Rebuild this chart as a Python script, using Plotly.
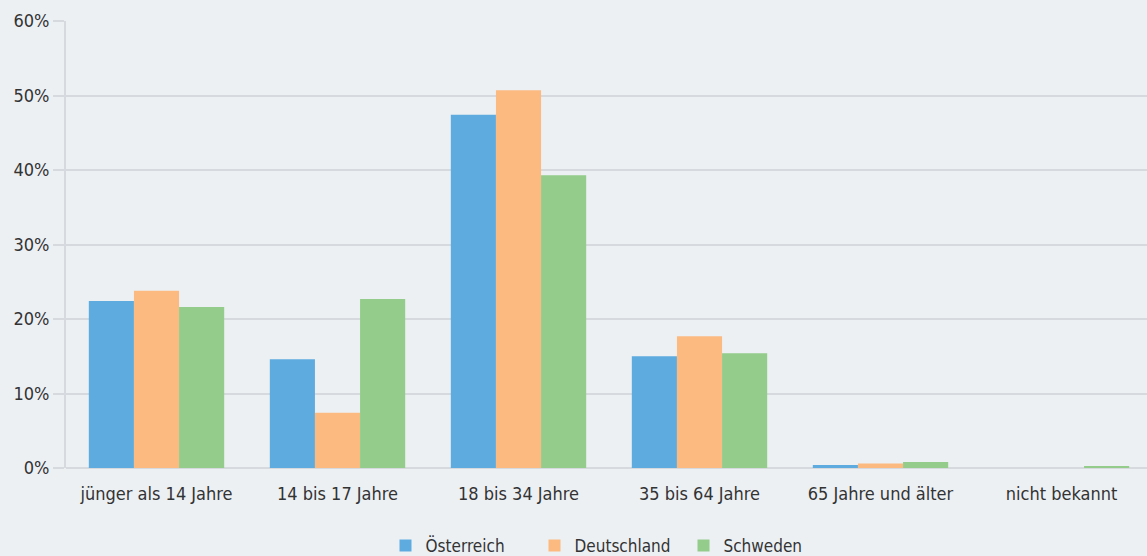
import plotly.graph_objects as go

categories = ["jünger als 14 Jahre", "14 bis 17 Jahre", "18 bis 34 Jahre",
              "35 bis 64 Jahre", "65 Jahre und älter", "nicht bekannt"]
oesterreich = [22.4, 14.6, 47.4, 15.0, 0.4, 0.0]
deutschland = [23.8, 7.4, 50.7, 17.7, 0.6, 0.0]
schweden = [21.6, 22.7, 39.3, 15.4, 0.8, 0.2]
y_ticks = [0, 10, 20, 30, 40, 50, 60]
y_labels = [f"{v}%" for v in y_ticks]

bg = "#ecf0f3"
grid = "#d6d9dd"
font = "DejaVu Sans Condensed, sans-serif"

fig = go.Figure()
for name, vals, col in [("Österreich", oesterreich, "#5dabdf"),
                        ("Deutschland", deutschland, "#fdba80"),
                        ("Schweden", schweden, "#93cc8b")]:
    fig.add_trace(go.Bar(x=categories, y=vals, name=name,
                         marker=dict(color=col, line=dict(width=0))))

fig.update_layout(
    width=1152, height=556,
    paper_bgcolor=bg, plot_bgcolor=bg,
    barmode="group", bargap=0.252, bargroupgap=0,
    margin=dict(l=66, r=0, t=21, b=88, autoexpand=False),
    font=dict(family=font, size=18, color="#333333"),
    legend=dict(orientation="h", x=0.5, xanchor="center",
                yref="container", y=0.018, yanchor="middle",
                font=dict(size=17), itemwidth=30, traceorder="normal",
                entrywidth=104, entrywidthmode="pixels"),
    xaxis=dict(showgrid=False, showline=False, ticks="", zeroline=False,
               automargin=False, ticklabelstandoff=13),
    yaxis=dict(range=[0, 60], tickmode="array", tickvals=y_ticks, ticktext=y_labels,
               showgrid=True, gridcolor=grid, gridwidth=1.5,
               ticks="outside", ticklen=11, tickcolor=grid, tickwidth=1.5,
               showline=True, linecolor=grid, linewidth=2,
               zeroline=True, zerolinecolor=grid, zerolinewidth=2,
               automargin=False),
)

# the page body has a default 8px margin; drop it so the chart fills the window
fig.write_html("out.html", config={"displayModeBar": False},
               post_script="document.body.style.margin='0';document.body.style.overflow='hidden';")
